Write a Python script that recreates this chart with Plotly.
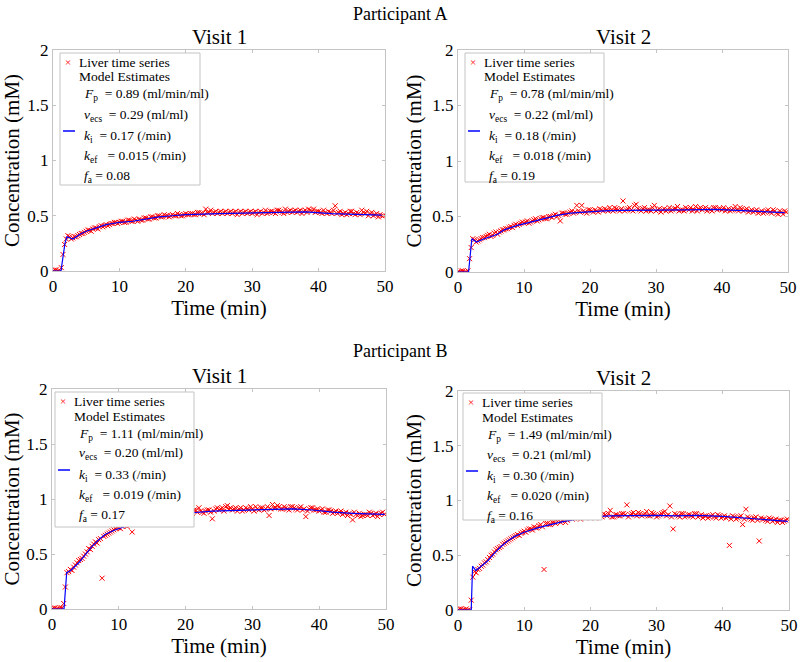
import plotly.graph_objects as go

# sample times (min): two interleaved sampling grids shared by all four panels
t = [0.0, 0.5, 1.0, 1.5, 2.0, 2.5, 3.0, 3.5, 4.0, 4.5,
     5.0, 5.5, 6.0, 6.5, 7.0, 7.5, 8.0, 8.5, 9.0, 9.5,
     10.0, 10.5, 11.0, 11.5, 12.0, 12.5, 13.0, 13.5, 14.0, 14.5,
     15.0, 15.5, 16.0, 16.5, 17.0, 17.5, 18.0, 18.5, 19.0, 19.5,
     20.0, 20.5, 21.0, 21.5, 22.0, 22.5, 23.0, 23.5, 24.0, 24.5,
     25.0, 25.5, 26.0, 26.5, 27.0, 27.5, 28.0, 28.5, 29.0, 29.5,
     30.0, 30.5, 31.0, 31.5, 32.0, 32.5, 33.0, 33.5, 34.0, 34.5,
     35.0, 35.5, 36.0, 36.5, 37.0, 37.5, 38.0, 38.5, 39.0, 39.5,
     40.0, 40.5, 41.0, 41.5, 42.0, 42.5, 43.0, 43.5, 44.0, 44.5,
     45.0, 45.5, 46.0, 46.5, 47.0, 47.5, 48.0, 48.5, 49.0, 49.5]
t_b = [0.25, 0.75, 1.25, 1.75, 2.25, 2.75, 3.25, 3.75, 4.25, 4.75,
       5.25, 5.75, 6.25, 6.75, 7.25, 7.75, 8.25, 8.75, 9.25, 9.75,
       10.25, 10.75, 11.25, 11.75, 12.25, 12.75, 13.25, 13.75, 14.25, 14.75,
       15.25, 15.75, 16.25, 16.75, 17.25, 17.75, 18.25, 18.75, 19.25, 19.75,
       20.25, 20.75, 21.25, 21.75, 22.25, 22.75, 23.25, 23.75, 24.25, 24.75,
       25.25, 25.75, 26.25, 26.75, 27.25, 27.75, 28.25, 28.75, 29.25, 29.75,
       30.25, 30.75, 31.25, 31.75, 32.25, 32.75, 33.25, 33.75, 34.25, 34.75,
       35.25, 35.75, 36.25, 36.75, 37.25, 37.75, 38.25, 38.75, 39.25, 39.75,
       40.25, 40.75, 41.25, 41.75, 42.25, 42.75, 43.25, 43.75, 44.25, 44.75,
       45.25, 45.75, 46.25, 46.75, 47.25, 47.75, 48.25, 48.75, 49.25, 49.75]

# Participant A, visit 1
a1_data = [0.00, 0.01, 0.00, 0.15, 0.29, 0.31, 0.30, 0.31, 0.33, 0.34,
           0.36, 0.37, 0.38, 0.39, 0.40, 0.40, 0.42, 0.42, 0.43, 0.44,
           0.44, 0.45, 0.44, 0.46, 0.45, 0.46, 0.47, 0.46, 0.48, 0.47,
           0.49, 0.48, 0.50, 0.49, 0.50, 0.49, 0.51, 0.50, 0.51, 0.50,
           0.52, 0.51, 0.52, 0.51, 0.53, 0.52, 0.56, 0.53, 0.52, 0.54,
           0.53, 0.52, 0.54, 0.53, 0.52, 0.54, 0.53, 0.52, 0.54, 0.53,
           0.52, 0.54, 0.53, 0.52, 0.55, 0.53, 0.54, 0.52, 0.55, 0.53,
           0.56, 0.54, 0.53, 0.55, 0.54, 0.52, 0.55, 0.56, 0.54, 0.53,
           0.54, 0.52, 0.53, 0.54, 0.52, 0.59, 0.53, 0.51, 0.53, 0.52,
           0.54, 0.51, 0.52, 0.55, 0.52, 0.50, 0.53, 0.51, 0.49, 0.50]
a1_data_b = [0.01, 0.00, 0.03, 0.24, 0.32, 0.29, 0.31, 0.32, 0.34, 0.35,
             0.37, 0.36, 0.39, 0.38, 0.41, 0.41, 0.41, 0.43, 0.44, 0.43,
             0.45, 0.44, 0.46, 0.45, 0.47, 0.45, 0.46, 0.48, 0.47, 0.49,
             0.48, 0.50, 0.49, 0.51, 0.50, 0.50, 0.50, 0.52, 0.50, 0.51,
             0.51, 0.52, 0.51, 0.53, 0.52, 0.51, 0.53, 0.55, 0.53, 0.52,
             0.54, 0.53, 0.52, 0.54, 0.53, 0.51, 0.54, 0.53, 0.52, 0.54,
             0.53, 0.51, 0.54, 0.53, 0.52, 0.54, 0.53, 0.55, 0.54, 0.52,
             0.53, 0.55, 0.54, 0.53, 0.55, 0.54, 0.53, 0.55, 0.56, 0.54,
             0.53, 0.55, 0.52, 0.53, 0.55, 0.52, 0.54, 0.52, 0.51, 0.54,
             0.52, 0.53, 0.51, 0.53, 0.54, 0.52, 0.50, 0.52, 0.51, 0.50]

# Participant A, visit 2
a2_data = [0.00, 0.01, 0.00, 0.01, 0.22, 0.29, 0.28, 0.30, 0.31, 0.33,
           0.32, 0.35, 0.34, 0.37, 0.38, 0.39, 0.41, 0.42, 0.42, 0.44,
           0.44, 0.46, 0.45, 0.47, 0.46, 0.48, 0.49, 0.48, 0.50, 0.51,
           0.50, 0.46, 0.53, 0.52, 0.54, 0.53, 0.60, 0.54, 0.55, 0.53,
           0.56, 0.54, 0.55, 0.57, 0.55, 0.56, 0.58, 0.55, 0.57, 0.55,
           0.64, 0.56, 0.58, 0.55, 0.61, 0.56, 0.57, 0.55, 0.56, 0.58,
           0.55, 0.57, 0.56, 0.55, 0.58, 0.56, 0.57, 0.55, 0.56, 0.58,
           0.56, 0.55, 0.59, 0.57, 0.56, 0.58, 0.57, 0.55, 0.58, 0.57,
           0.56, 0.55, 0.57, 0.56, 0.59, 0.55, 0.57, 0.56, 0.54, 0.56,
           0.55, 0.53, 0.55, 0.54, 0.56, 0.53, 0.55, 0.52, 0.54, 0.55]
a2_data_b = [0.00, 0.01, 0.00, 0.12, 0.30, 0.27, 0.29, 0.31, 0.32, 0.34,
             0.33, 0.36, 0.36, 0.38, 0.39, 0.40, 0.40, 0.43, 0.43, 0.45,
             0.45, 0.44, 0.46, 0.48, 0.47, 0.49, 0.48, 0.50, 0.49, 0.52,
             0.51, 0.53, 0.52, 0.53, 0.55, 0.54, 0.55, 0.60, 0.54, 0.56,
             0.55, 0.56, 0.54, 0.56, 0.57, 0.55, 0.56, 0.58, 0.56, 0.57,
             0.55, 0.57, 0.56, 0.60, 0.57, 0.55, 0.58, 0.56, 0.55, 0.60,
             0.56, 0.54, 0.57, 0.56, 0.55, 0.57, 0.59, 0.56, 0.55, 0.57,
             0.58, 0.56, 0.55, 0.58, 0.57, 0.55, 0.56, 0.58, 0.56, 0.57,
             0.58, 0.56, 0.55, 0.57, 0.56, 0.58, 0.55, 0.57, 0.55, 0.54,
             0.56, 0.54, 0.53, 0.55, 0.54, 0.56, 0.53, 0.55, 0.52, 0.54]

# Participant B, visit 1
b1_data = [0.00, 0.01, 0.00, 0.01, 0.20, 0.34, 0.35, 0.40, 0.44, 0.46,
           0.50, 0.55, 0.57, 0.61, 0.63, 0.28, 0.67, 0.69, 0.71, 0.73,
           0.74, 0.75, 0.76, 0.77, 0.70, 0.79, 0.78, 0.80, 0.81, 0.80,
           0.82, 0.83, 0.84, 0.83, 0.86, 0.85, 0.87, 0.86, 0.88, 0.87,
           0.88, 0.89, 0.87, 0.90, 0.92, 0.88, 0.89, 0.90, 0.82, 0.91,
           0.90, 0.92, 0.93, 0.91, 0.90, 0.92, 0.91, 0.89, 0.92, 0.90,
           0.91, 0.93, 0.90, 0.92, 0.91, 0.85, 0.95, 0.92, 0.93, 0.91,
           0.92, 0.90, 0.93, 0.91, 0.92, 0.90, 0.84, 0.91, 0.92, 0.90,
           0.89, 0.91, 0.88, 0.90, 0.87, 0.89, 0.88, 0.86, 0.88, 0.87,
           0.81, 0.86, 0.87, 0.85, 0.86, 0.88, 0.85, 0.87, 0.86, 0.88]
b1_data_b = [0.01, 0.00, 0.01, 0.05, 0.33, 0.36, 0.38, 0.42, 0.45, 0.48,
             0.52, 0.54, 0.59, 0.60, 0.64, 0.66, 0.68, 0.70, 0.72, 0.74,
             0.73, 0.76, 0.75, 0.78, 0.77, 0.80, 0.79, 0.81, 0.80, 0.82,
             0.83, 0.82, 0.85, 0.84, 0.85, 0.87, 0.86, 0.88, 0.87, 0.89,
             0.87, 0.88, 0.90, 0.88, 0.89, 0.87, 0.90, 0.88, 0.89, 0.92,
             0.91, 0.89, 0.94, 0.92, 0.91, 0.89, 0.92, 0.90, 0.91, 0.93,
             0.89, 0.91, 0.92, 0.90, 0.93, 0.91, 0.92, 0.94, 0.91, 0.93,
             0.91, 0.93, 0.92, 0.90, 0.93, 0.91, 0.89, 0.92, 0.90, 0.91,
             0.90, 0.88, 0.90, 0.89, 0.88, 0.87, 0.89, 0.87, 0.85, 0.86,
             0.88, 0.85, 0.84, 0.86, 0.85, 0.87, 0.86, 0.84, 0.87, 0.86]

# Participant B, visit 2
b2_data = [0.00, 0.01, 0.00, 0.00, 0.09, 0.35, 0.37, 0.40, 0.43, 0.46,
           0.50, 0.53, 0.56, 0.58, 0.61, 0.63, 0.65, 0.67, 0.69, 0.70,
           0.72, 0.73, 0.74, 0.76, 0.75, 0.78, 0.37, 0.79, 0.78, 0.80,
           0.81, 0.80, 0.83, 0.82, 0.89, 0.84, 0.85, 0.83, 0.86, 0.85,
           0.90, 0.86, 0.85, 0.87, 0.88, 0.86, 0.91, 0.85, 0.87, 0.86,
           0.88, 0.96, 0.87, 0.89, 0.86, 0.88, 0.87, 0.90, 0.86, 0.88,
           0.85, 0.87, 0.89, 0.86, 0.95, 0.74, 0.87, 0.85, 0.88, 0.86,
           0.87, 0.85, 0.88, 0.86, 0.84, 0.86, 0.85, 0.87, 0.84, 0.86,
           0.85, 0.84, 0.59, 0.86, 0.83, 0.85, 0.78, 0.92, 0.84, 0.82,
           0.85, 0.63, 0.83, 0.82, 0.84, 0.81, 0.83, 0.82, 0.80, 0.82]
b2_data_b = [0.01, 0.00, 0.01, 0.00, 0.30, 0.34, 0.38, 0.41, 0.44, 0.48,
             0.51, 0.55, 0.57, 0.60, 0.62, 0.64, 0.66, 0.68, 0.68, 0.71,
             0.71, 0.74, 0.73, 0.75, 0.77, 0.76, 0.79, 0.78, 0.80, 0.79,
             0.82, 0.81, 0.80, 0.84, 0.83, 0.85, 0.84, 0.86, 0.84, 0.86,
             0.87, 0.84, 0.86, 0.85, 0.87, 0.88, 0.85, 0.87, 0.86, 0.88,
             0.87, 0.85, 0.88, 0.87, 0.89, 0.86, 0.88, 0.86, 0.89, 0.87,
             0.86, 0.88, 0.90, 0.87, 0.85, 0.88, 0.86, 0.88, 0.85, 0.87,
             0.86, 0.88, 0.85, 0.87, 0.86, 0.84, 0.86, 0.85, 0.87, 0.84,
             0.86, 0.85, 0.83, 0.85, 0.84, 0.86, 0.83, 0.85, 0.83, 0.84,
             0.82, 0.84, 0.83, 0.81, 0.83, 0.82, 0.80, 0.82, 0.81, 0.83]

# model fits
a1_fit_t = [0, 1.2, 1.8, 2.1, 3, 4, 5, 6, 7, 8, 9, 10, 12, 14, 16, 18, 20, 25, 30, 35, 38, 42, 45, 49.5]
a1_fit = [0, 0, 0.25, 0.31, 0.29, 0.33, 0.36, 0.38, 0.40, 0.42, 0.43, 0.44, 0.45, 0.47, 0.49, 0.50,
          0.51, 0.52, 0.525, 0.53, 0.535, 0.52, 0.515, 0.505]
a2_fit_t = [0, 1.6, 2.1, 2.8, 4, 6, 7, 9, 11, 13, 15, 17, 20, 22, 25, 30, 35, 39, 42, 45, 49.5]
a2_fit = [0, 0, 0.30, 0.27, 0.30, 0.34, 0.38, 0.42, 0.45, 0.48, 0.51, 0.53, 0.545, 0.55, 0.555,
          0.555, 0.56, 0.565, 0.555, 0.545, 0.535]
b1_fit_t = [0, 1.8, 2.2, 2.8, 4, 5, 6, 7, 8, 9.5, 11, 13, 15, 17, 19, 21, 24, 27, 30, 33, 36, 39,
            42, 45, 48, 49.8]
b1_fit = [0, 0, 0.33, 0.35, 0.42, 0.50, 0.57, 0.63, 0.68, 0.72, 0.75, 0.78, 0.81, 0.84, 0.86, 0.875,
          0.89, 0.895, 0.90, 0.905, 0.91, 0.90, 0.88, 0.87, 0.86, 0.86]
b2_fit_t = [0, 2.0, 2.2, 2.7, 3.5, 4.5, 5.5, 6.5, 7.5, 8.5, 10, 12, 14, 16, 18, 20, 23, 26, 30, 33,
            36, 40, 43, 46, 48, 49.8]
b2_fit = [0, 0, 0.40, 0.36, 0.40, 0.45, 0.52, 0.58, 0.63, 0.67, 0.71, 0.75, 0.78, 0.81, 0.83, 0.85,
          0.86, 0.865, 0.865, 0.86, 0.865, 0.855, 0.84, 0.83, 0.815, 0.81]

params = [
    ["0.89", "0.29", "0.17", "0.015", "0.08"],
    ["0.78", "0.22", "0.18", "0.018", "0.19"],
    ["1.11", "0.20", "0.33", "0.019", "0.17"],
    ["1.49", "0.21", "0.30", "0.020", "0.16"],
]
visits = ["Visit 1", "Visit 2", "Visit 1", "Visit 2"]

panels = [(a1_data, a1_data_b, a1_fit_t, a1_fit), (a2_data, a2_data_b, a2_fit_t, a2_fit),
          (b1_data, b1_data_b, b1_fit_t, b1_fit), (b2_data, b2_data_b, b2_fit_t, b2_fit)]

W, H = 800, 662
# pixel boxes of each axes: x0, x1, ytop, ybottom
boxes = [(53, 385, 50, 271), (458, 788, 50, 272), (52, 386, 389, 609), (458, 789, 391, 610)]
# legend boxes: left, top, width, height
leg_boxes = [(60, 53, 140, 132), (465, 53, 139, 129), (55, 392, 139, 135), (463, 393, 139, 127)]

SERIF = "Liberation Serif, Times New Roman, serif"
NB = "\u00a0"
GRAY = "#c4c4c4"


def px(x):
    return x / W


def py(y):
    return 1 - y / H


def label(x, y, text, size=13.5, color="black", anchor="left"):
    fig.add_annotation(text=text, x=px(x), y=py(y), xref="paper", yref="paper",
                       xanchor=anchor, yanchor="middle", showarrow=False,
                       font=dict(family=SERIF, size=size, color=color))


fig = go.Figure()
for i, ((d1, d2, ft, fv), p) in enumerate(zip(panels, params)):
    n = "" if i == 0 else str(i + 1)
    fig.add_trace(go.Scatter(x=t + t_b, y=d1 + d2, mode="markers", name="Liver time series",
                             marker=dict(symbol="x-thin", size=5, line=dict(color="red", width=1)),
                             xaxis="x" + n, yaxis="y" + n, showlegend=False))
    fig.add_trace(go.Scatter(x=ft, y=fv, mode="lines", name="Model Estimates",
                             line=dict(color="blue", width=1.2),
                             xaxis="x" + n, yaxis="y" + n, showlegend=False))

    x0, x1, yt, yb = boxes[i]
    axis_common = dict(showline=True, linecolor=GRAY, linewidth=1, mirror="allticks",
                       ticks="inside", ticklen=3, tickcolor=GRAY, showgrid=False,
                       zeroline=False, automargin=False,
                       tickfont=dict(family=SERIF, size=17, color="black"))
    fig.update_layout({
        "xaxis" + n: dict(axis_common, domain=[px(x0), px(x1)], range=[0, 50], dtick=10,
                          anchor="y" + n,
                          title=dict(text="Time (min)", standoff=2,
                                     font=dict(family=SERIF, size=21, color="black"))),
        "yaxis" + n: dict(axis_common, domain=[py(yb), py(yt)], range=[0, 2],
                          tickvals=[0, 0.5, 1, 1.5, 2], ticktext=["0", "0.5", "1", "1.5", "2"],
                          anchor="x" + n,
                          title=dict(text="Concentration (mM)", standoff=4,
                                     font=dict(family=SERIF, size=21, color="black"))),
    })
    label((x0 + x1) / 2, yt - 13, visits[i], size=21, anchor="center")

    # legend box drawn like the MATLAB one
    bx, by, bw, bh = leg_boxes[i]
    fig.add_shape(type="rect", xref="paper", yref="paper", x0=px(bx), x1=px(bx + bw),
                  y0=py(by + bh), y1=py(by), line=dict(color=GRAY, width=1), fillcolor="white")
    label(bx + 8, by + 9, "×", size=11, color="red", anchor="center")
    label(bx + 17, by + 9, "Liver time series")
    label(bx + 17, by + 24, "Model Estimates")
    fig.add_shape(type="line", xref="paper", yref="paper", x0=px(bx + 3), x1=px(bx + 15),
                  y0=py(by + 78), y1=py(by + 78), line=dict(color="blue", width=1.5))
    lines = [
        ("<i>F</i><sub>p</sub>" + NB + " = " + p[0] + " (ml/min/ml)", 42),
        ("<i>v</i><sub>ecs</sub>" + NB + " = " + p[1] + " (ml/ml)", 62),
        ("<i>k</i><sub>i</sub>" + NB + " = " + p[2] + " (/min)", 83),
        ("<i>k</i><sub>ef</sub>" + NB * 2 + " = " + p[3] + " (/min)", 103),
        ("<i>f</i><sub>a</sub>" + " = " + p[4], 123),
    ]
    for txt, dy in lines:
        label(bx + 22, by + dy, txt)

label(400, 14, "Participant A", size=18, anchor="center")
label(400, 351, "Participant B", size=18, anchor="center")

fig.update_layout(width=W, height=H, margin=dict(l=0, r=0, t=0, b=0),
                  plot_bgcolor="white", paper_bgcolor="white", showlegend=False)
fig.write_html("out.html", config={"displayModeBar": False},
               post_script="document.body.style.margin='0';")
